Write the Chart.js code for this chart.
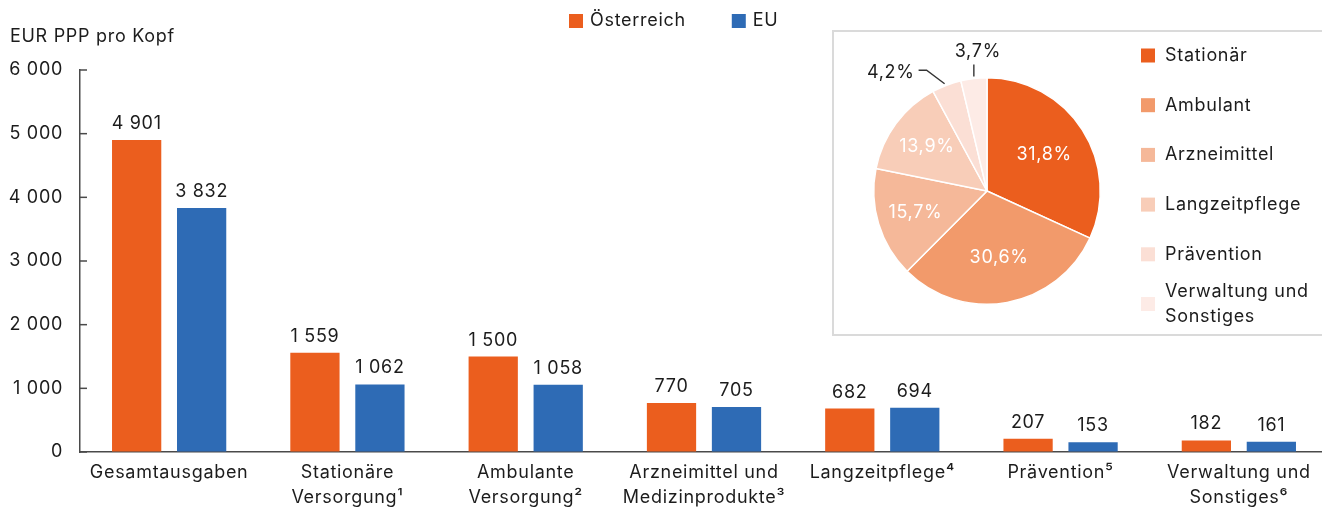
<!DOCTYPE html>
<html lang="de">
<head>
<meta charset="UTF-8">
<script src="https://cdn.jsdelivr.net/npm/chart.js@4"></script>
<title>Gesundheitsausgaben pro Kopf</title>
<style>
  html, body { margin: 0; padding: 0; background: #fff; overflow: hidden; }
  #wrap { position: relative; width: 1322px; height: 508px; overflow: hidden; }
  #barBox { position: absolute; left: 0; top: 0; width: 1328px; height: 508px; }
  #pieBox { position: absolute; left: 832px; top: 30px; width: 500px; height: 306px;
            border: 2px solid #dadada; box-sizing: border-box; background: #fff; }
  #pieInner { position: relative; width: 496px; height: 302px; }
</style>
</head>
<body>
<div id="wrap">
  <div id="barBox"><canvas id="barChart"></canvas></div>
  <div id="pieBox"><div id="pieInner"><canvas id="pieChart"></canvas></div></div>
</div>
<script>
// --- data ---
const categories = [
  ['Gesamtausgaben'],
  ['Stationäre', 'Versorgung¹'],
  ['Ambulante', 'Versorgung²'],
  ['Arzneimittel und', 'Medizinprodukte³'],
  ['Langzeitpflege⁴'],
  ['Prävention⁵'],
  ['Verwaltung und', 'Sonstiges⁶']
];
const austria = [4901, 1559, 1500, 770, 682, 207, 182];
const eu = [3832, 1062, 1058, 705, 694, 153, 161];
const seriesNames = ['Österreich', 'EU'];
const yTicks = [0, 1000, 2000, 3000, 4000, 5000, 6000];
const yTitle = 'EUR PPP pro Kopf';

const pieLabels = ['Stationär', 'Ambulant', 'Arzneimittel', 'Langzeitpflege', 'Prävention', ['Verwaltung und', 'Sonstiges']];
const pieShares = [31.8, 30.6, 15.7, 13.9, 4.2, 3.7];

// --- styles ---
const FONT = 'Inter';
const FS = 18;
const SPACING = '0.7px';
const TEXT = '#1c1c1c';
const ORANGE = '#eb5e1e';
const BLUE = '#2e6bb5';
const AXIS = '#4a4a4a';
const pieColors = ['#eb5e1e', '#f29a6b', '#f5b899', '#f8cdb8', '#fbdfd5', '#fdebe6'];

Chart.defaults.font.family = FONT;
Chart.defaults.font.size = FS;
Chart.defaults.color = TEXT;

function fmt(v) {
  return String(v).replace(/\B(?=(\d{3})+(?!\d))/g, ' ');
}
function pct(v) {
  return v.toFixed(1).replace('.', ',') + '%';
}

// the source font runs a little wider than Inter, so widen the canvas text
const spacing = {
  id: 'spacing',
  beforeUpdate(chart) { chart.ctx.letterSpacing = SPACING; },
  resize(chart) { chart.ctx.letterSpacing = SPACING; },
  beforeDraw(chart) { chart.ctx.letterSpacing = SPACING; }
};

// value labels, inward y ticks, y title and legend
const barExtras = {
  id: 'barExtras',
  afterDatasetsDraw(chart) {
    const ctx = chart.ctx;
    ctx.save();
    ctx.font = FS + 'px ' + FONT;
    ctx.fillStyle = TEXT;
    ctx.textAlign = 'center';
    ctx.textBaseline = 'alphabetic';
    chart.data.datasets.forEach((ds, i) => {
      chart.getDatasetMeta(i).data.forEach((bar, j) => {
        ctx.fillText(fmt(ds.data[j]), bar.x, bar.y - 11);
      });
    });
    ctx.restore();
  },
  afterDraw(chart) {
    const ctx = chart.ctx;
    const y = chart.scales.y;
    ctx.save();
    ctx.strokeStyle = AXIS;
    ctx.lineWidth = 1.5;
    y.ticks.forEach((t, i) => {
      const py = y.getPixelForTick(i);
      ctx.beginPath();
      ctx.moveTo(y.right, py);
      ctx.lineTo(y.right + 7, py);
      ctx.stroke();
    });

    ctx.fillStyle = TEXT;
    ctx.font = FS + 'px ' + FONT;
    ctx.textBaseline = 'middle';
    ctx.textAlign = 'left';
    ctx.fillText(yTitle, 10, 37);

    // legend
    let x = 569;
    chart.data.datasets.forEach(ds => {
      ctx.fillStyle = ds.backgroundColor;
      ctx.fillRect(x, 14, 14, 14);
      ctx.fillStyle = TEXT;
      ctx.fillText(ds.label, x + 21, 21);
      x += 21 + ctx.measureText(ds.label).width + 46;
    });
    ctx.restore();
  }
};

new Chart(document.getElementById('barChart'), {
  type: 'bar',
  data: {
    labels: categories,
    datasets: [
      { label: seriesNames[0], data: austria, backgroundColor: ORANGE },
      { label: seriesNames[1], data: eu, backgroundColor: BLUE }
    ]
  },
  options: {
    responsive: true,
    maintainAspectRatio: false,
    animation: false,
    layout: { padding: { top: 70, left: 0, right: 0, bottom: 0 } },
    datasets: { bar: { barPercentage: 0.758, categoryPercentage: 0.729 } },
    plugins: { legend: { display: false }, tooltip: { enabled: false } },
    scales: {
      x: {
        grid: { display: true, drawOnChartArea: false, drawTicks: false },
        border: { display: true, color: AXIS, width: 1.5 },
        ticks: { padding: 8, maxRotation: 0, autoSkip: false, font: { size: FS, lineHeight: 1.4 } },
        afterFit(s) { s.height = 56; }
      },
      y: {
        min: 0,
        max: 6000,
        afterBuildTicks(s) { s.ticks = yTicks.map(v => ({ value: v })); },
        grid: { display: true, drawOnChartArea: false, drawTicks: false },
        border: { display: true, color: AXIS, width: 1.5 },
        ticks: { padding: 17, callback: v => fmt(v), font: { size: FS } },
        afterFit(s) { s.width = 80; }
      }
    }
  },
  plugins: [spacing, barExtras]
});

// pie inset: labels, leader lines and legend
const pieExtras = {
  id: 'pieExtras',
  afterDatasetsDraw(chart) {
    const ctx = chart.ctx;
    const arcs = chart.getDatasetMeta(0).data;
    ctx.save();
    ctx.font = FS + 'px ' + FONT;
    ctx.textBaseline = 'middle';
    arcs.forEach((arc, i) => {
      const mid = (arc.startAngle + arc.endAngle) / 2;
      const R = arc.outerRadius;
      const label = pct(pieShares[i]);
      if (i < 4) {
        const r = R * (pieShares[i] > 20 ? 0.6 : 0.66);
        ctx.fillStyle = '#ffffff';
        ctx.textAlign = 'center';
        ctx.fillText(label, arc.x + r * Math.cos(mid), arc.y + r * Math.sin(mid));
      } else {
        const ex = arc.x + R * Math.cos(mid);
        const ey = arc.y + R * Math.sin(mid);
        ctx.strokeStyle = '#333';
        ctx.lineWidth = 1.4;
        ctx.fillStyle = TEXT;
        ctx.beginPath();
        if (i === 4) {
          ctx.moveTo(ex - 2, ey - 1.5);
          ctx.lineTo(ex - 20, ey - 15);
          ctx.lineTo(ex - 28, ey - 15);
          ctx.stroke();
          ctx.textAlign = 'right';
          ctx.fillText(label, ex - 32, ey - 13);
        } else {
          ctx.moveTo(ex, ey - 2);
          ctx.lineTo(ex, ey - 14);
          ctx.stroke();
          ctx.textAlign = 'center';
          ctx.fillText(label, ex + 4, ey - 27);
        }
      }
    });
    ctx.restore();
  },
  afterDraw(chart) {
    const ctx = chart.ctx;
    ctx.save();
    ctx.font = FS + 'px ' + FONT;
    ctx.textBaseline = 'middle';
    ctx.textAlign = 'left';
    chart.data.labels.forEach((lab, i) => {
      const cy = 23.5 + i * 49.7;
      ctx.fillStyle = pieColors[i];
      ctx.fillRect(307, cy - 7, 14, 14);
      ctx.fillStyle = TEXT;
      const lines = Array.isArray(lab) ? lab : [lab];
      lines.forEach((t, k) => {
        ctx.fillText(t, 331, cy + (k - (lines.length - 1) / 2) * 25);
      });
    });
    ctx.restore();
  }
};

new Chart(document.getElementById('pieChart'), {
  type: 'pie',
  data: {
    labels: pieLabels,
    datasets: [{
      data: pieShares,
      backgroundColor: pieColors,
      borderColor: '#ffffff',
      borderWidth: 1.5
    }]
  },
  options: {
    responsive: true,
    maintainAspectRatio: false,
    animation: false,
    layout: { padding: { left: 39, top: 45, right: 229, bottom: 29 } },
    plugins: { legend: { display: false }, tooltip: { enabled: false } }
  },
  plugins: [spacing, pieExtras]
});
</script>
</body>
</html>
